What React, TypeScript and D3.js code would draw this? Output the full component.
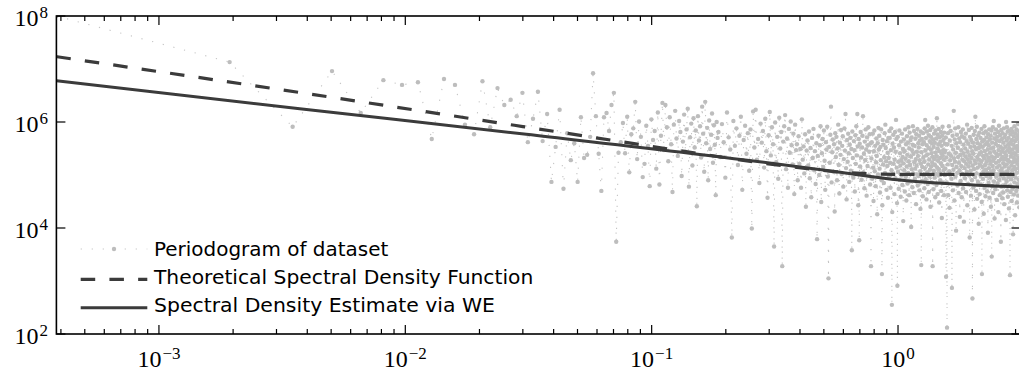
import React from 'react';
import * as d3 from 'd3';

const W = 1019;
const H = 370;
const plotLeft = 56.4;
const plotRight = 1020.5;
const plotTop = 16;
const plotBottom = 334;

const xDomain: [number, number] = [3.835e-4, 3.1416];
const yDomain: [number, number] = [1e2, 1e8];
const xTickExponents = [-3, -2, -1, 0];
const yTickExponents = [2, 4, 6, 8];

// frequency grid of the periodogram: w_j = (j + freqOffset) * freqStep
const freqStep = 1.5526e-3;
const freqOffset = 0.247;

// periodogram, log10 of power
// block A: j = 0..119 (every index)
const periodogramStartA = 0;
const periodogramStepA = 1;
const periodogramLog10A = [
  8.00, 7.13, 5.91, 6.96, 6.17, 6.79, 6.70, 6.75, 5.68, 6.81,
  6.70, 5.95, 5.77, 6.77, 5.90, 6.64, 6.32, 6.42, 6.11, 6.55,
  5.62, 6.06, 6.57, 5.64, 6.15, 4.87, 5.53, 6.23, 4.74, 5.79,
  5.28, 5.60, 4.87, 6.09, 5.32, 5.38, 5.72, 6.92, 6.11, 5.40,
  4.70, 6.09, 6.17, 5.83, 6.32, 6.55, 3.74, 5.42, 5.62, 5.98,
  5.41, 6.10, 5.05, 5.77, 5.88, 6.38, 5.30, 6.01, 5.72, 4.96,
  5.21, 5.93, 5.55, 4.79, 6.05, 5.66, 5.83, 5.12, 6.18, 4.82,
  5.74, 6.36, 5.47, 6.32, 5.90, 5.26, 6.09, 5.58, 4.68, 5.95,
  6.21, 5.69, 5.36, 6.02, 5.81, 4.98, 5.63, 6.14, 5.44, 5.86,
  6.25, 4.78, 5.71, 5.97, 5.18, 6.07, 5.52, 5.84, 4.41, 6.11,
  5.65, 5.92, 5.33, 6.29, 5.78, 5.06, 6.38, 5.60, 5.89, 4.90,
  6.03, 5.49, 5.76, 6.16, 5.23, 5.94, 5.57, 4.62, 6.00, 5.70,
];
// block B: j = 120..498 (every 2nd index)
const periodogramStartB = 120;
const periodogramStepB = 2;
const periodogramLog10B = [
  5.81, 5.34, 5.96, 5.62, 4.95, 6.18, 5.71, 5.48, 3.82, 6.02,
  5.55, 5.88, 5.19, 5.74, 6.10, 4.72, 5.66, 5.93, 5.40, 5.79,
  5.08, 5.86, 3.99, 6.20, 5.52, 6.23, 5.29, 5.68, 4.85, 5.97,
  5.61, 5.83, 5.14, 6.06, 5.45, 4.57, 5.75, 6.19, 5.37, 5.90,
  5.58, 3.65, 5.99, 5.24, 5.72, 4.93, 6.08, 5.50, 5.81, 3.28,
  5.63, 5.92, 6.13, 5.11, 5.69, 4.76, 5.87, 5.42, 6.01, 5.56,
  5.20, 5.78, 4.64, 5.95, 5.47, 5.58, 4.90, 5.73, 5.21, 5.49,
  4.76, 6.05, 5.29, 5.54, 5.03, 5.77, 4.40, 5.46, 5.65, 5.18,
  5.82, 4.94, 5.51, 4.58, 5.70, 5.32, 5.87, 5.09, 5.45, 4.83,
  5.60, 3.79, 5.36, 5.74, 5.00, 5.56, 5.92, 4.49, 5.41, 5.68,
  5.15, 5.84, 5.27, 4.72, 5.62, 5.48, 5.91, 4.97, 3.05, 5.53,
  5.23, 5.76, 6.29, 4.86, 5.43, 5.67, 5.06, 5.58, 4.31, 5.79,
  5.34, 5.72, 4.90, 5.50, 5.95, 5.19, 4.65, 5.61, 5.38, 5.85,
  5.02, 5.55, 5.73, 4.78, 5.30, 5.88, 5.46, 6.15, 5.13, 4.54,
  5.66, 5.25, 5.78, 5.41, 4.87, 5.57, 5.70, 5.08, 5.49, 3.58,
  5.82, 5.32, 4.95, 5.64, 5.47, 4.69, 5.75, 5.21, 5.92, 5.37,
  6.15, 5.54, 4.43, 5.68, 3.77, 5.59, 5.16, 5.81, 5.33, 4.91,
  5.52, 5.74, 6.11, 5.05, 5.40, 4.75, 5.63, 5.28, 5.86, 5.48,
  4.61, 5.71, 5.17, 5.56, 5.90, 4.99, 5.44, 5.77, 4.82, 5.60,
];
// block C: j = 500..998 (every 2nd index)
const periodogramStartC = 500;
const periodogramStepC = 2;
const periodogramLog10C = [
  3.28, 5.31, 5.62, 4.93, 5.78, 5.14, 4.51, 5.45, 5.84, 5.07,
  5.55, 4.79, 5.24, 5.69, 5.36, 4.26, 5.60, 5.01, 5.89, 5.48,
  5.74, 5.12, 4.67, 5.53, 5.28, 5.86, 4.90, 3.13, 4.43, 5.66,
  5.20, 5.57, 4.85, 5.33, 5.79, 5.04, 5.95, 5.51, 5.26, 4.72,
  5.64, 5.17, 5.42, 4.57, 5.70, 5.32, 4.97, 5.83, 5.70, 5.23,
  4.76, 5.47, 5.88, 5.09, 2.55, 4.30, 5.59, 5.02, 5.76, 5.21,
  5.52, 4.64, 5.29, 5.81, 4.94, 5.44, 6.04, 5.68, 5.14, 4.47,
  2.91, 5.72, 5.06, 5.25, 4.74, 5.56, 5.84, 4.91, 5.41, 5.18,
  4.59, 5.63, 5.27, 4.99, 5.78, 4.81, 5.34, 5.49, 4.13, 5.22,
  5.67, 5.09, 5.45, 4.69, 5.86, 5.31, 4.96, 5.58, 4.52, 5.16,
  5.73, 5.38, 4.84, 5.61, 5.04, 5.90, 5.26, 4.62, 5.50, 5.80,
  5.19, 4.88, 5.66, 5.35, 4.02, 5.71, 5.11, 5.47, 4.77, 5.57,
  5.92, 5.03, 5.40, 4.66, 5.83, 5.24, 5.55, 4.93, 5.12, 5.69,
  5.30, 4.45, 5.77, 5.18, 5.44, 5.01, 5.87, 4.80, 5.36, 5.60,
  4.98, 5.52, 5.74, 4.71, 5.28, 5.65, 5.07, 4.36, 5.82, 5.21,
  3.30, 5.43, 5.68, 4.89, 5.15, 5.58, 4.60, 5.79, 5.33, 5.00,
  5.62, 5.25, 4.75, 5.88, 5.13, 6.04, 5.46, 4.92, 5.70, 5.37,
  4.54, 5.56, 5.82, 5.05, 5.39, 4.83, 5.93, 5.20, 5.51, 4.68,
  5.75, 5.29, 4.97, 5.64, 5.10, 5.85, 4.40, 5.48, 5.72, 5.16,
  5.41, 4.86, 5.60, 5.23, 5.90, 3.28, 5.34, 5.67, 4.73, 5.53,
  5.08, 5.78, 5.30, 4.95, 5.61, 5.19, 4.58, 5.84, 5.42, 5.02,
  5.69, 4.81, 5.35, 6.07, 5.14, 5.50, 4.64, 5.76, 5.27, 4.99,
  5.58, 5.87, 5.11, 4.48, 5.45, 5.71, 5.04, 5.32, 4.90, 5.63,
  5.22, 5.81, 4.70, 5.40, 5.55, 4.19, 5.74, 5.17, 5.91, 5.36,
  4.85, 5.47, 5.66, 5.09, 5.29, 4.62, 5.80, 5.43, 5.00, 5.59,
];
// block D: j = 1000..2020 (every 3rd index)
const periodogramStartD = 1000;
const periodogramStepD = 3;
const periodogramLog10D = [
  5.46, 5.12, 5.71, 3.08, 5.33, 4.86, 2.12, 5.58, 5.20, 5.79,
  4.62, 5.40, 5.92, 5.07, 4.38, 5.65, 5.28, 5.01, 5.83, 5.36,
  4.93, 5.55, 2.87, 5.19, 5.74, 4.71, 5.48, 5.10, 6.21, 5.31,
  4.52, 5.67, 5.25, 5.88, 4.97, 5.42, 3.95, 5.60, 5.15, 5.76,
  5.04, 4.80, 5.52, 5.34, 5.90, 4.66, 5.23, 5.69, 5.09, 4.21,
  5.62, 5.38, 4.89, 5.81, 5.17, 5.47, 4.58, 5.73, 5.29, 5.02,
  5.86, 4.75, 5.41, 5.57, 4.12, 5.26, 5.70, 5.13, 4.94, 5.50,
  5.35, 5.78, 4.68, 5.21, 5.64, 5.06, 5.95, 4.43, 5.44, 5.30,
  4.83, 5.59, 5.16, 5.85, 4.99, 5.37, 3.82, 5.72, 5.24, 5.53,
  5.08, 4.61, 5.66, 5.32, 5.89, 4.90, 5.45, 2.67, 5.18, 5.61,
  5.40, 4.77, 5.76, 5.11, 5.54, 4.35, 5.27, 5.83, 4.96, 6.10,
  5.22, 5.49, 4.70, 5.68, 5.03, 5.91, 4.55, 5.34, 5.60, 5.14,
  4.87, 5.75, 5.29, 4.08, 5.51, 5.39, 5.80, 4.64, 5.20, 5.57,
  5.00, 5.70, 4.82, 5.43, 5.26, 5.87, 4.49, 3.13, 5.63, 5.15,
  5.53, 4.93, 5.36, 5.79, 5.07, 4.27, 5.66, 5.31, 5.92, 4.76,
  5.45, 5.19, 5.58, 4.60, 5.82, 5.10, 5.38, 4.98, 5.71, 5.25,
  4.69, 5.62, 5.04, 5.48, 3.91, 5.77, 5.33, 4.85, 5.56, 5.13,
  5.86, 5.28, 4.57, 5.67, 5.42, 4.95, 5.21, 5.74, 4.40, 5.50,
  5.06, 5.84, 3.46, 5.35, 5.61, 4.79, 5.17, 5.90, 5.27, 4.66,
  5.52, 5.09, 6.02, 4.88, 5.44, 5.69, 4.18, 5.32, 5.78, 5.02,
  4.73, 5.59, 5.23, 5.86, 4.97, 5.40, 5.65, 4.53, 5.14, 5.72,
  5.36, 4.84, 5.55, 5.01, 5.81, 4.30, 5.47, 5.26, 5.93, 4.91,
  5.18, 5.64, 4.62, 5.39, 5.75, 5.08, 4.99, 5.53, 3.74, 5.30,
  5.85, 4.78, 5.44, 5.12, 5.68, 4.56, 5.34, 5.79, 5.05, 5.49,
  4.67, 5.61, 5.22, 4.94, 5.88, 5.29, 4.45, 5.71, 5.16, 5.42,
  5.03, 5.76, 4.82, 5.54, 5.31, 4.15, 6.00, 5.37, 4.89, 5.65,
  5.20, 5.90, 4.71, 5.46, 5.07, 5.82, 4.59, 5.28, 5.58, 4.96,
  5.70, 5.13, 4.37, 5.51, 5.84, 5.25, 4.80, 5.43, 3.11, 5.62,
  5.00, 5.77, 4.68, 5.35, 5.59, 4.92, 5.18, 5.87, 4.51, 5.40,
  5.66, 5.09, 5.48, 4.74, 5.81, 5.24, 3.88, 5.57, 5.33, 4.98,
  5.73, 4.63, 5.41, 5.15, 5.92, 4.86, 5.30, 5.64, 4.24, 5.52,
  5.11, 5.79, 4.95, 5.38, 5.67, 4.70, 5.26, 5.86, 5.04, 4.48,
  5.55, 5.21, 5.74, 4.83, 5.45, 5.96, 4.61, 5.32, 5.13, 5.69,
  4.91, 5.50, 5.83, 4.39, 5.28, 5.62, 5.06, 4.77, 5.44, 5.78,
  5.19,
];

// theoretical spectral density (dashed)
const theoreticalFreq = [0.0003835, 0.00373, 0.03, 0.13, 0.274, 0.42, 0.563, 0.75, 1.0, 3.1416];
const theoreticalValue = [1.71e7, 3.6e6, 8.2e5, 2.88e5, 1.71e5, 1.33e5, 1.15e5, 1.06e5, 1.03e5, 1.03e5];

// spectral density estimate via WE (solid)
const estimateFreq = [0.0003835, 0.00373, 0.0297, 0.274, 0.563, 1.014, 1.776, 3.1416];
const estimateValue = [6.0e6, 1.78e6, 6.0e5, 1.78e5, 1.15e5, 8.05e4, 6.68e4, 5.9e4];

const legendLabels = [
  'Periodogram of dataset',
  'Theoretical Spectral Density Function',
  'Spectral Density Estimate via WE',
];
const legendWidths = [234.3, 379.3, 341];

const lineColor = '#3b3b3b';
const pointColor = '#bdbdbd';

type P = { w: number; p: number };

function blockPoints(start: number, step: number, vals: number[]): P[] {
  return vals.map((v, i) => ({ w: (start + i * step + freqOffset) * freqStep, p: Math.pow(10, v) }));
}

export default function App() {
  const x = d3.scaleLog().domain(xDomain).range([plotLeft, plotRight]);
  const y = d3.scaleLog().domain(yDomain).range([plotBottom, plotTop]);

  const pts: P[] = [
    ...blockPoints(periodogramStartA, periodogramStepA, periodogramLog10A),
    ...blockPoints(periodogramStartB, periodogramStepB, periodogramLog10B),
    ...blockPoints(periodogramStartC, periodogramStepC, periodogramLog10C),
    ...blockPoints(periodogramStartD, periodogramStepD, periodogramLog10D),
  ];

  const straight = d3.line<P>().x((d) => x(d.w)).y((d) => y(d.p));
  const smooth = d3.line<P>().x((d) => x(d.w)).y((d) => y(d.p)).curve(d3.curveMonotoneX);

  const theo = theoreticalFreq.map((w, i) => ({ w, p: theoreticalValue[i] }));
  const theoA = theo.filter((d) => d.w <= 1.0);
  const theoB = theo.filter((d) => d.w >= 1.0);
  const est = estimateFreq.map((w, i) => ({ w, p: estimateValue[i] }));

  const xTicks = x.ticks().filter((v) => v >= xDomain[0] && v <= xDomain[1]);
  const isMajor = (v: number) => Math.abs(Math.log10(v) - Math.round(Math.log10(v))) < 1e-9;

  const legendX0 = 80.7;
  const legendX1 = 147.3;
  const legendTextX = 154;
  const legendHandleY = [249, 279.3, 307.7];
  const legendBaseY = [255.5, 283.6, 311.8];

  const serif = '"Liberation Serif", "Times New Roman", serif';
  const sans = '"DejaVu Sans", "Liberation Sans", sans-serif';

  return (
    <svg
      width={W}
      height={H}
      viewBox={`0 0 ${W} ${H}`}
      style={{ position: 'absolute', left: 0, top: 0, background: '#fff' }}
    >
      <defs>
        <clipPath id="plotClip">
          <rect x={plotLeft} y={plotTop} width={plotRight - plotLeft} height={plotBottom - plotTop} />
        </clipPath>
      </defs>
      <rect x={0} y={0} width={W} height={H} fill="#fff" />

      <g clipPath="url(#plotClip)">
        <path
          d={straight(pts) || ''}
          fill="none"
          stroke="#c4c4c4"
          strokeWidth={1.1}
          strokeDasharray="1.2 9.8"
        />
        {pts.map((d, i) => (
          <circle key={i} cx={x(d.w)} cy={y(d.p)} r={2.2} fill={pointColor} />
        ))}
        <path d={smooth(est) || ''} fill="none" stroke={lineColor} strokeWidth={3} />
        <path
          d={smooth(theoA) || ''}
          fill="none"
          stroke={lineColor}
          strokeWidth={3.2}
          strokeDasharray="14.5 14.22"
        />
        <path
          d={smooth(theoB) || ''}
          fill="none"
          stroke={lineColor}
          strokeWidth={3.2}
          strokeDasharray="15 5"
          strokeDashoffset={-1.5}
        />
      </g>

      {/* frame */}
      <rect
        x={plotLeft}
        y={plotTop}
        width={plotRight - plotLeft}
        height={plotBottom - plotTop}
        fill="none"
        stroke="#000"
        strokeWidth={1.6}
      />

      {/* x ticks (bottom and top, inward) */}
      {xTicks.map((v, i) => {
        const len = isMajor(v) ? 9 : 5;
        const xx = x(v);
        return (
          <g key={'xt' + i}>
            <line x1={xx} x2={xx} y1={plotBottom} y2={plotBottom - len} stroke="#000" strokeWidth={1.2} />
            <line x1={xx} x2={xx} y1={plotTop} y2={plotTop + len} stroke="#000" strokeWidth={1.2} />
          </g>
        );
      })}
      {/* y ticks (left and right, inward) */}
      {yTickExponents.map((e) => {
        const yy = y(Math.pow(10, e));
        return (
          <g key={'yt' + e}>
            <line x1={plotLeft} x2={plotLeft + 9} y1={yy} y2={yy} stroke="#000" strokeWidth={1.2} />
            <line x1={plotRight} x2={plotRight - 9} y1={yy} y2={yy} stroke="#000" strokeWidth={1.2} />
          </g>
        );
      })}

      {/* x tick labels */}
      {xTickExponents.map((e) => (
        <text
          key={'xl' + e}
          x={x(Math.pow(10, e))}
          y={366.5}
          textAnchor="middle"
          fontFamily={serif}
          fontSize={24}
          fill="#000"
        >
          10
          <tspan dy={-8} dx={1} fontSize={17}>
            {e < 0 ? '\u2212' + -e : String(e)}
          </tspan>
        </text>
      ))}
      {/* y tick labels */}
      {yTickExponents.map((e) => (
        <text
          key={'yl' + e}
          x={48}
          y={y(Math.pow(10, e)) + 10}
          textAnchor="end"
          fontFamily={serif}
          fontSize={24}
          fill="#000"
        >
          10
          <tspan dy={-8} dx={1} fontSize={17}>
            {String(e)}
          </tspan>
        </text>
      ))}

      {/* legend */}
      <g>
        <line
          x1={legendX0}
          x2={legendX1}
          y1={legendHandleY[0]}
          y2={legendHandleY[0]}
          stroke="#c4c4c4"
          strokeWidth={1.1}
          strokeDasharray="1.2 9.8"
        />
        <circle cx={(legendX0 + legendX1) / 2} cy={legendHandleY[0]} r={2.2} fill={pointColor} />
        <line
          x1={legendX0}
          x2={legendX1}
          y1={legendHandleY[1]}
          y2={legendHandleY[1]}
          stroke={lineColor}
          strokeWidth={3.2}
          strokeDasharray="14.5 14.22"
        />
        <line
          x1={legendX0}
          x2={legendX1}
          y1={legendHandleY[2]}
          y2={legendHandleY[2]}
          stroke={lineColor}
          strokeWidth={3}
        />
        {legendLabels.map((t, i) => (
          <text
            key={'lg' + i}
            x={legendTextX}
            y={legendBaseY[i]}
            fontFamily={sans}
            fontSize={20}
            fill="#000"
            textLength={legendWidths[i]}
            lengthAdjust="spacingAndGlyphs"
          >
            {t}
          </text>
        ))}
      </g>
    </svg>
  );
}
